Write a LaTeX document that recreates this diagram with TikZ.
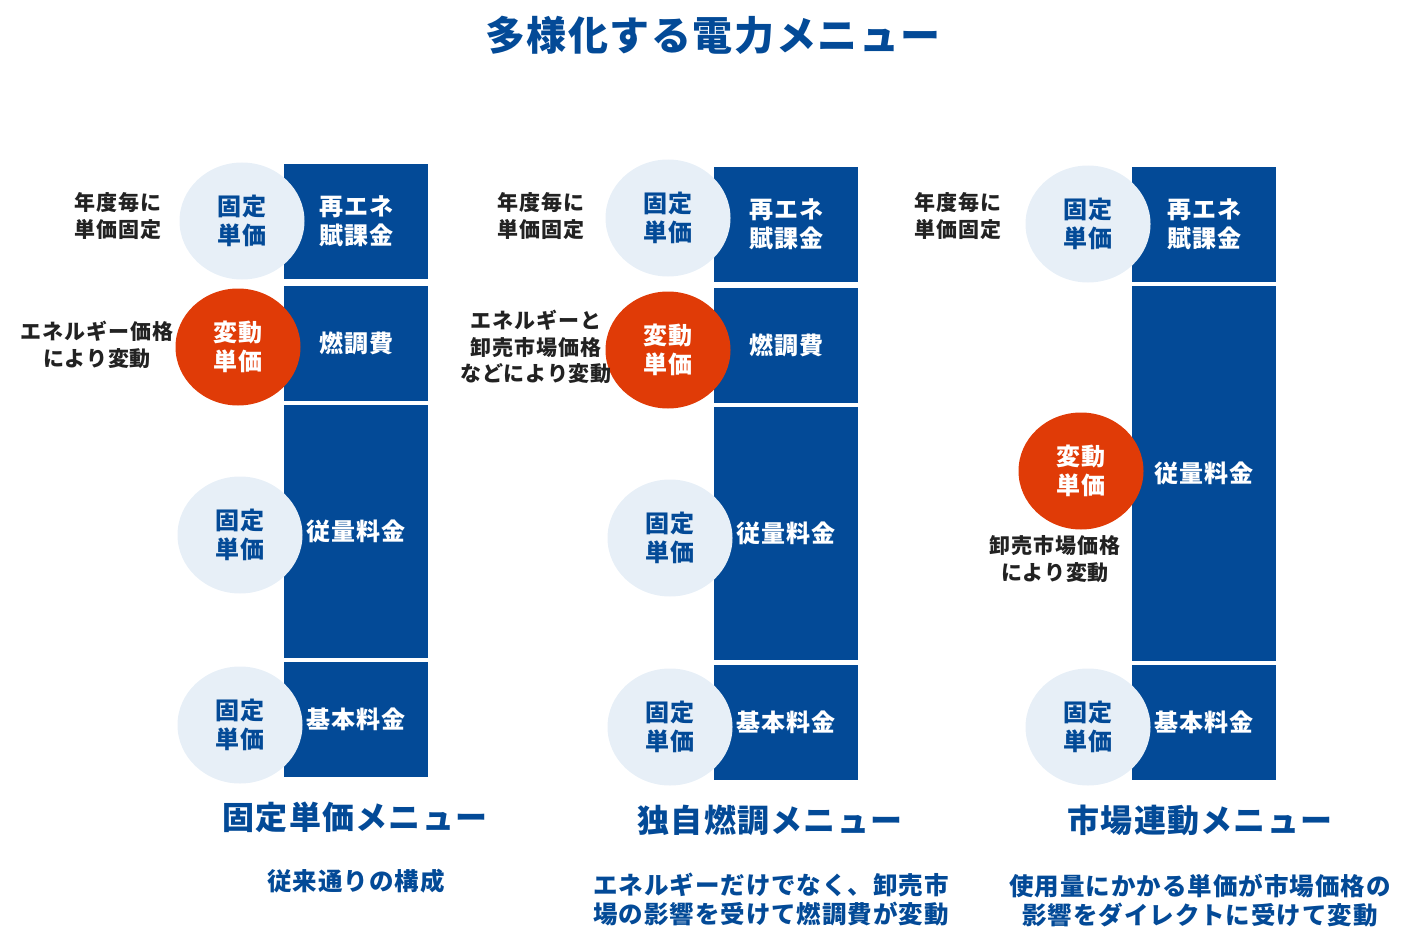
\documentclass[tikz,border=0pt]{standalone}
\usepackage{fontspec}
\setmainfont{Noto Sans CJK JP}[LetterSpace=4]
\usetikzlibrary{shapes.geometric}
\definecolor{barblue}{HTML}{034A97}
\definecolor{lightc}{HTML}{E7EFF7}
\definecolor{orangec}{HTML}{E03B07}
\definecolor{darktext}{HTML}{222222}
\tikzset{
  bar/.style={fill=barblue, draw=none, anchor=north west, minimum width=144pt, inner sep=0pt,
    text=white, align=center, font=\bfseries\fontsize{24}{29}\selectfont},
  fixc/.style={ellipse, fill=lightc, draw=none, minimum width=125pt, minimum height=117pt, inner sep=0pt,
    text=barblue, align=center, font=\bfseries\fontsize{24}{29}\selectfont},
  varc/.style={fixc, fill=orangec, text=white},
  side/.style={text=darktext, align=center, font=\bfseries\fontsize{21}{26.5}\selectfont},
  menutitle/.style={text=barblue, font=\bfseries\fontsize{32}{38}\selectfont},
  subt/.style={text=barblue, align=center, font=\bfseries\fontsize{24.5}{29}\selectfont},
}
\begin{document}
\begin{tikzpicture}[x=1pt,y=-1pt]
\useasboundingbox (0,0) rectangle (1411,947);
% main title
\node[text=barblue, font=\bfseries\fontsize{40}{48}\selectfont] (title) at (713,35) {多様化する電力メニュー};

% ---- column 1
\node[bar, minimum height=115pt] (a1) at (284,164) {再エネ\\賦課金};
\node[bar, minimum height=115pt] (a2) at (284,286) {燃調費};
\node[bar, minimum height=253pt] (a3) at (284,405) {従量料金};
\node[bar, minimum height=115pt] (a4) at (284,662) {基本料金};
\node[fixc] (ac1) at (242,221) {固定\\単価};
\node[varc] (ac2) at (238,347) {変動\\単価};
\node[fixc] (ac3) at (240,535) {固定\\単価};
\node[fixc] (ac4) at (240,725) {固定\\単価};
\node[side] (al1) at (118,216) {年度毎に\\単価固定};
\node[side] (al2) at (97,345) {エネルギー価格\\により変動};
\node[menutitle] (at) at (355,817) {固定単価メニュー};
\node[subt] (as) at (356,881) {従来通りの構成};

% ---- column 2
\node[bar, minimum height=115pt] (b1) at (714,167) {再エネ\\賦課金};
\node[bar, minimum height=115pt] (b2) at (714,288) {燃調費};
\node[bar, minimum height=253pt] (b3) at (714,407) {従量料金};
\node[bar, minimum height=115pt] (b4) at (714,665) {基本料金};
\node[fixc] (bc1) at (668,218) {固定\\単価};
\node[varc] (bc2) at (668,350) {変動\\単価};
\node[fixc] (bc3) at (670,538) {固定\\単価};
\node[fixc] (bc4) at (670,727) {固定\\単価};
\node[side] (bl1) at (541,216) {年度毎に\\単価固定};
\node[side] (bl2) at (536,347) {エネルギーと\\卸売市場価格\\などにより変動};
\node[menutitle] (bt) at (770,820) {独自燃調メニュー};
\node[subt] (bs) at (771,899.5) {エネルギーだけでなく、卸売市\\場の影響を受けて燃調費が変動};

% ---- column 3
\node[bar, minimum height=115pt] (c1) at (1132,167) {再エネ\\賦課金};
\node[bar, minimum height=375pt] (c2) at (1132,286) {従量料金};
\node[bar, minimum height=115pt] (c3) at (1132,665) {基本料金};
\node[fixc] (cc1) at (1088,224) {固定\\単価};
\node[varc] (cc2) at (1081,471) {変動\\単価};
\node[fixc] (cc3) at (1088,727) {固定\\単価};
\node[side] (cl1) at (958,216) {年度毎に\\単価固定};
\node[side] (cl2) at (1055,559) {卸売市場価格\\により変動};
\node[menutitle] (ct) at (1200,820) {市場連動メニュー};
\node[subt] (cs) at (1200,900.5) {使用量にかかる単価が市場価格の\\影響をダイレクトに受けて変動};
\end{tikzpicture}
\end{document}
